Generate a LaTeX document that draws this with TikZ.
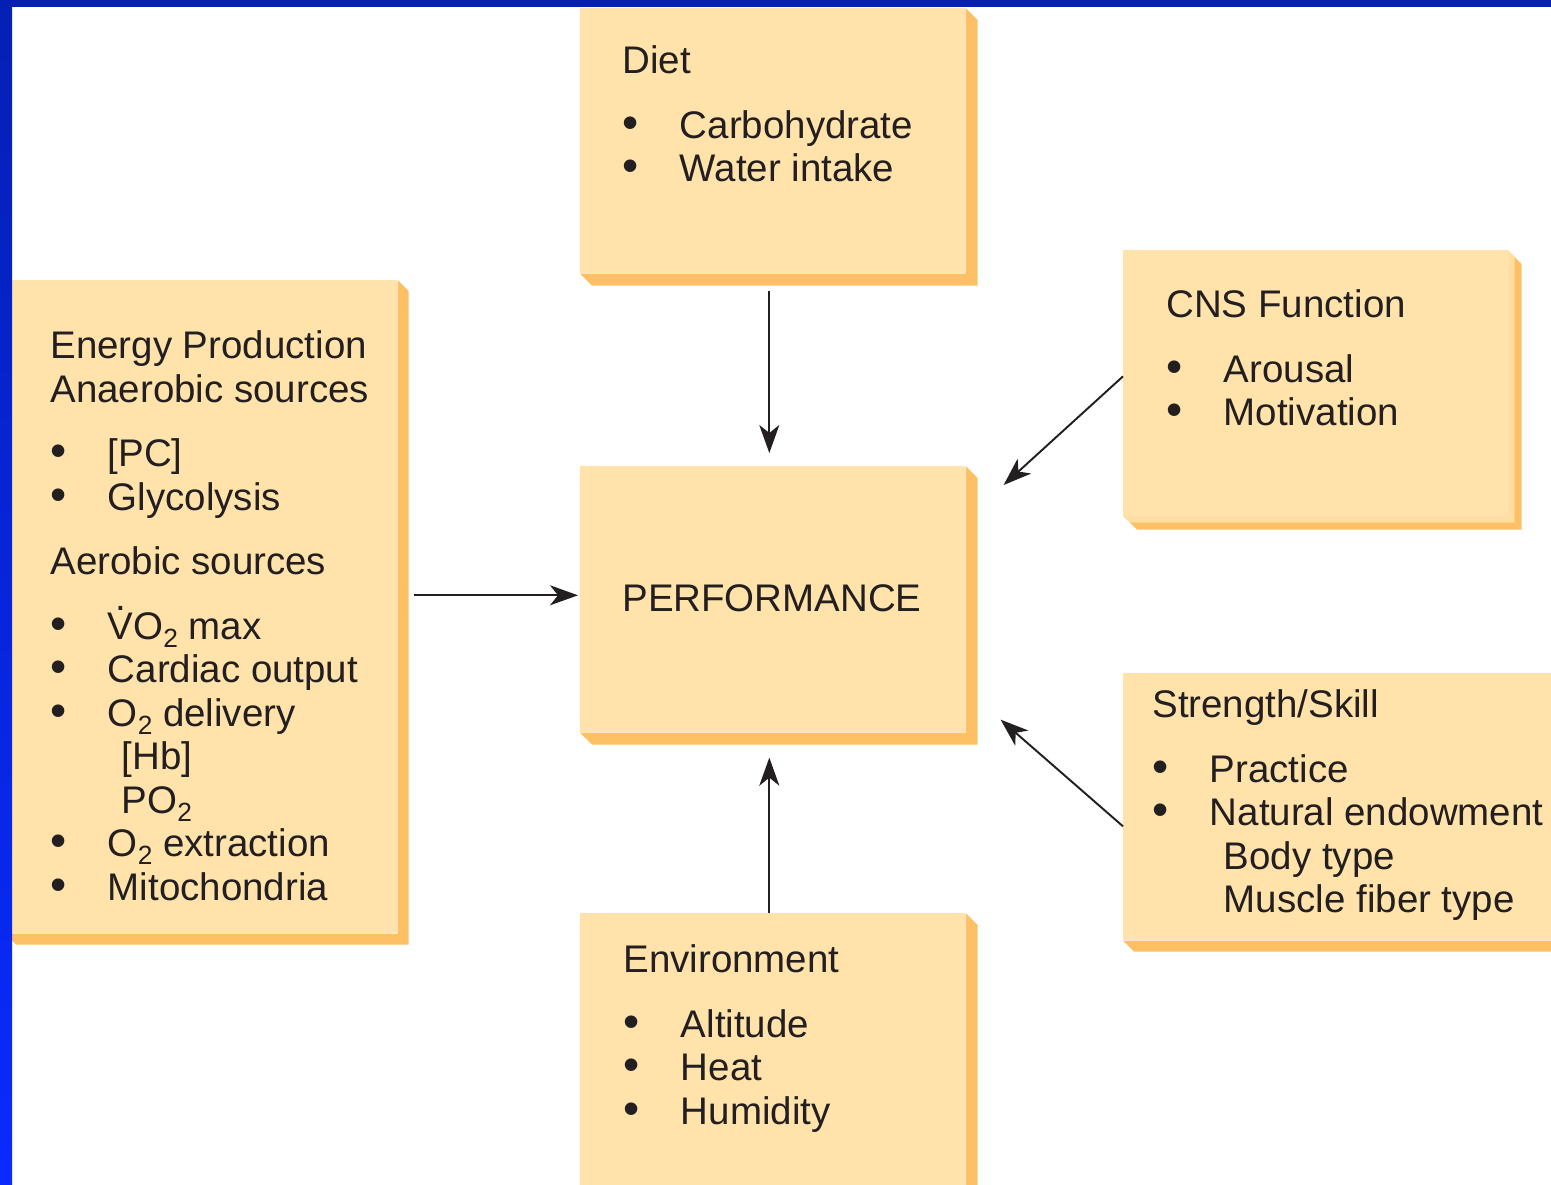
\documentclass[tikz,border=0pt]{standalone}
\usepackage{fontspec}
\setmainfont{Liberation Sans}
\usetikzlibrary{arrows.meta}
\definecolor{boxfill}{RGB}{255,227,171}
\definecolor{boxedge}{RGB}{253,192,100}
\definecolor{framedark}{RGB}{4,32,180}
\definecolor{framelight}{RGB}{10,42,255}
\definecolor{ink}{RGB}{35,31,32}
\newcommand{\bul}{\makebox[1.15cm][l]{\scalebox{1.2}{\textbullet}}}
\newcommand{\subind}{\hspace*{1.43cm}}
\newcommand{\sub}[1]{\raisebox{-4.6pt}{\fontsize{15}{15}\selectfont #1}}
\newcommand{\Vdot}{\ooalign{V\cr\hidewidth\raisebox{0.74em}{.}\hidewidth\cr}}
% L-shaped extrusion on the right and bottom of a box node
\newcommand{\extrude}[3][boxedge]{%
  \fill[#1] (#2.north east) -- ([shift={(#3,#3)}]#2.north east)
    -- ([shift={(#3,#3)}]#2.south east) -- ([shift={(#3,#3)}]#2.south west)
    -- (#2.south west) -- (#2.south east) -- cycle;}
\tikzset{
  box/.style={fill=boxfill, inner sep=0pt, anchor=north west},
  txt/.style={anchor=north west, inner sep=0pt, align=left, text=ink,
    font=\fontsize{21.9}{24.75}\selectfont},
  arr/.style={-{Stealth[length=0.56cm, width=0.4cm, inset=0.16cm]}, line width=1.1pt, ink}
}
\begin{document}
\begin{tikzpicture}[x=0.02cm, y=-0.02cm]
\useasboundingbox (0,0) rectangle (1551,1184);
\clip (0,0) rectangle (1551,1184);
\fill[white] (0,0) rectangle (1551,1184);

% boxes
\node[box, minimum width=7.7cm, minimum height=5.3cm] (diet) at (580,8) {};
\node[box, minimum width=7.7cm, minimum height=5.32cm] (perf) at (580,466) {};
\node[box, minimum width=7.7cm, minimum height=5.8cm] (env) at (580,913) {};
\node[box, minimum width=7.84cm, minimum height=13.06cm] (energy) at (5,280) {};
\node[box, minimum width=8.74cm, minimum height=5.34cm] (skill) at (1123,673) {};
\node[box, minimum width=7.68cm, minimum height=5.3cm] (cns) at (1123,250) {};
\extrude{diet}{12}
\extrude{perf}{12}
\extrude{env}{12}
\extrude{energy}{11}
\extrude{skill}{11}
\extrude{cns}{14}
\extrude[boxfill!85!boxedge]{cns}{7}

% texts
\node[txt] (diettxt) at (622,45.5) {Diet\\[12pt] \bul Carbohydrate\\ \bul Water intake};
\node[txt] (perftxt) at (622,584.5) {PERFORMANCE};
\node[txt] (envtxt) at (623,944.5) {Environment\\[12pt] \bul Altitude\\ \bul Heat\\ \bul Humidity};
\node[txt] (cnstxt) at (1166,289.5) {CNS Function\\[12pt] \bul Arousal\\ \bul Motivation};
\node[txt] (skilltxt) at (1152,689.5) {Strength/Skill\\[12pt] \bul Practice\\ \bul Natural endowment\\
  \subind Body type\\ \subind Muscle fiber type};
\node[txt] (energytxt) at (50,330.5) {Energy Production\\ Anaerobic sources\\[12pt]
  \bul [PC]\\ \bul Glycolysis\\[12pt] Aerobic sources\\[12pt]
  \bul \Vdot O\sub{2} max\\ \bul Cardiac output\\ \bul O\sub{2} delivery\\
  \subind [Hb]\\ \subind PO\sub{2}\\ \bul O\sub{2} extraction\\ \bul Mitochondria};

% connectors
\draw[arr, shorten <=0.34cm, shorten >=0.26cm] ([xshift=-0.07cm]diet.south) -- ([xshift=-0.07cm]perf.north);
\draw[arr, shorten >=0.5cm] ([xshift=-0.07cm]env.north) -- ([xshift=-0.07cm]perf.south);
\draw[arr, shorten <=0.32cm, shorten >=0.04cm] ([yshift=0.23cm]energy.east) -- ([yshift=0.23cm]energy.east -| perf.west);
\draw[arr] ([yshift=0.13cm]cns.west) -- ([xshift=0.76cm, yshift=-0.38cm]perf.north east);
\draw[arr] ([yshift=-0.39cm]skill.west) -- ([xshift=0.7cm, yshift=0.26cm]perf.south east);

% frame
\fill[framedark] (0,0) rectangle (1551,7);
\shade[top color=framedark, bottom color=framelight] (0,0) rectangle (12,1184);
\end{tikzpicture}
\end{document}
